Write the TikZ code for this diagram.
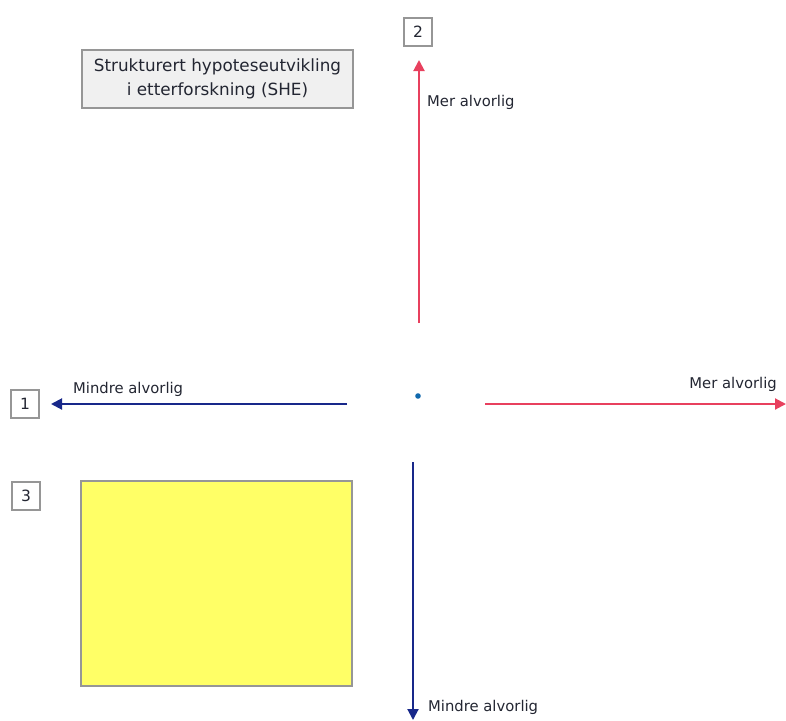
\documentclass[tikz,border=0pt]{standalone}
\usepackage{fontspec}
\setmainfont{DejaVu Sans}
\usetikzlibrary{arrows.meta}

\definecolor{merred}{RGB}{232,64,94}
\definecolor{mindreblue}{RGB}{24,40,138}
\definecolor{titlegray}{RGB}{240,240,240}
\definecolor{boxgray}{RGB}{150,150,150}
\definecolor{notepad}{RGB}{255,255,102}
\definecolor{labeltext}{RGB}{35,38,50}

\tikzset{
  numbox/.style={draw=boxgray,line width=1.2pt,fill=white,minimum width=28pt,minimum height=28pt,inner sep=0pt,font=\fontsize{15.5}{17}\selectfont,text=labeltext},
  axislabel/.style={font=\fontsize{14.8}{16}\selectfont,inner sep=0pt,text=labeltext},
  mer/.style={draw=merred,line width=2pt,-{Triangle[length=11pt,width=11pt]}},
  mindre/.style={draw=mindreblue,line width=2pt,-{Triangle[length=11pt,width=11pt]}}
}

\begin{document}
\begin{tikzpicture}[x=1pt,y=-1pt]
\useasboundingbox (0,0) rectangle (786,720);

\coordinate (top) at (419,60);
\coordinate (topStart) at (419,323);
\coordinate (left) at (51,404);
\coordinate (leftStart) at (347,404);
\coordinate (right) at (786,404);
\coordinate (rightStart) at (485,404);
\coordinate (bottom) at (413,720);
\coordinate (bottomStart) at (413,462);

\node[draw=boxgray,line width=1.2pt,fill=titlegray,minimum width=271pt,minimum height=58pt,align=center,
  font=\fontsize{16.8}{23.5}\selectfont,text=labeltext] (title) at (217.5,79) {Strukturert hypoteseutvikling\\i etterforskning (SHE)};

\node[numbox] (box2) at (418,32) {2};
\node[numbox] (box1) at (25,404) {1};
\node[numbox] (box3) at (26,496) {3};

\draw[mer] (topStart) -- (top);
\draw[mindre] (leftStart) -- (left);
\draw[mer] (rightStart) -- (right);
\draw[mindre] (bottomStart) -- (bottom);

\node[axislabel,anchor=west] (merUp) at (427,102) {Mer alvorlig};
\node[axislabel,anchor=west] (mindreLeft) at (73,389) {Mindre alvorlig};
\node[axislabel,anchor=east] (merRight) at (777,384) {Mer alvorlig};
\node[axislabel,anchor=west] (mindreDown) at (428,707) {Mindre alvorlig};

% origin dot
\fill[mindreblue!70!cyan] (418,396) circle (2.8);

\node[draw=boxgray,line width=1.2pt,fill=notepad,minimum width=271pt,minimum height=205pt,inner sep=0pt] (notes) at (216.5,583.5) {};

\end{tikzpicture}
\end{document}
